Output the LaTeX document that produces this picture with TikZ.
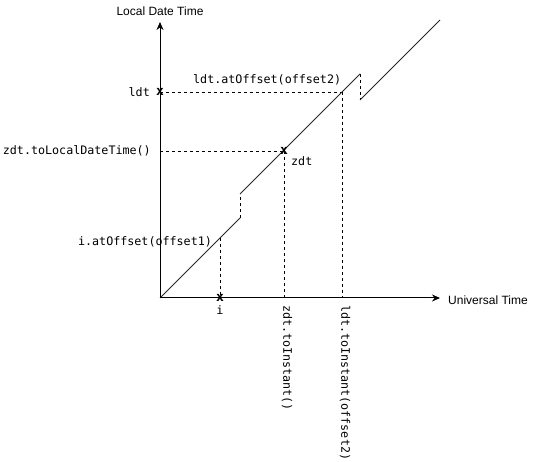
\documentclass[tikz,border=0pt]{standalone}
\usepackage{fontspec}
\setmainfont{Liberation Sans}
\setsansfont{Liberation Sans}
\setmonofont{DejaVu Sans Mono}
\usetikzlibrary{arrows.meta}
\tikzset{
  axis/.style={line width=1pt,-{Stealth[length=8pt,width=7pt]}},
  curve/.style={line width=0.9pt,draw=black!85},
  guide/.style={line width=0.8pt,dash pattern=on 3pt off 3pt},
  codelbl/.style={font=\fontsize{11.7}{13}\selectfont\ttfamily,inner sep=0pt},
  axlbl/.style={font=\fontsize{12}{14}\selectfont\sffamily,inner sep=0pt},
  xmark/.style={font=\fontsize{13}{14}\selectfont\ttfamily\bfseries,inner sep=0pt},
}
\begin{document}
\begin{tikzpicture}[x=1pt,y=-1pt]
\useasboundingbox (0,0) rectangle (538,462);
% key coordinates
\coordinate (O) at (160,298);
\coordinate (Ytop) at (160,22);
\coordinate (Xend) at (440,298);
\coordinate (A1) at (240,218);
\coordinate (A2) at (240,194);
\coordinate (B1) at (360,74);
\coordinate (B2) at (360,100);
\coordinate (C) at (440,20);
\coordinate (L) at (342,92);
\coordinate (LX) at (342,298);
\coordinate (Z) at (284,151);
\coordinate (ZX) at (284,298);
\coordinate (ZY) at (160,151);
\coordinate (I) at (220,298);
\coordinate (I1) at (220,238);
% guides
\draw[guide] (A1) -- (A2);
\draw[guide] (B1) -- (B2);
\draw[guide] (160,92) -- (L);
\draw[guide] (L) -- (LX);
\draw[guide] (ZY) -- (Z);
\draw[guide] (Z) -- (ZX);
\draw[guide] (I1) -- (I);
% curve
\draw[curve] (O) -- (A1);
\draw[curve] (A2) -- (B1);
\draw[curve] (B2) -- (C);
% axes
\draw[axis] (O) -- (Ytop);
\draw[axis] (O) -- (Xend);
% labels
\node[axlbl] (ylab) at (160,11) {Local Date Time};
\node[axlbl,anchor=west] (xlab) at (448,300) {Universal Time};
\node[xmark] (mldt) at (160,92) {x};
\node[xmark] (mzdt) at (Z) {x};
\node[xmark] (mi) at (I) {x};
\node[codelbl,anchor=east] (ldtl) at (150,92) {ldt};
\node[codelbl,anchor=east] (zdtl) at (151,151) {zdt.toLocalDateTime()};
\node[codelbl] (ioff) at (145,242) {i.atOffset(offset1)};
\node[codelbl,anchor=west] (ldtoff) at (193,80) {ldt.atOffset(offset2)};
\node[codelbl,anchor=west] (zdtr) at (291,161) {zdt};
\node[codelbl] (il) at (220,310) {i};
\node[codelbl,anchor=west,rotate=-90] (zinst) at (287,305) {zdt.toInstant()};
\node[codelbl,anchor=west,rotate=-90] (linst) at (345,305) {ldt.toInstant(offset2)};
\end{tikzpicture}
\end{document}
